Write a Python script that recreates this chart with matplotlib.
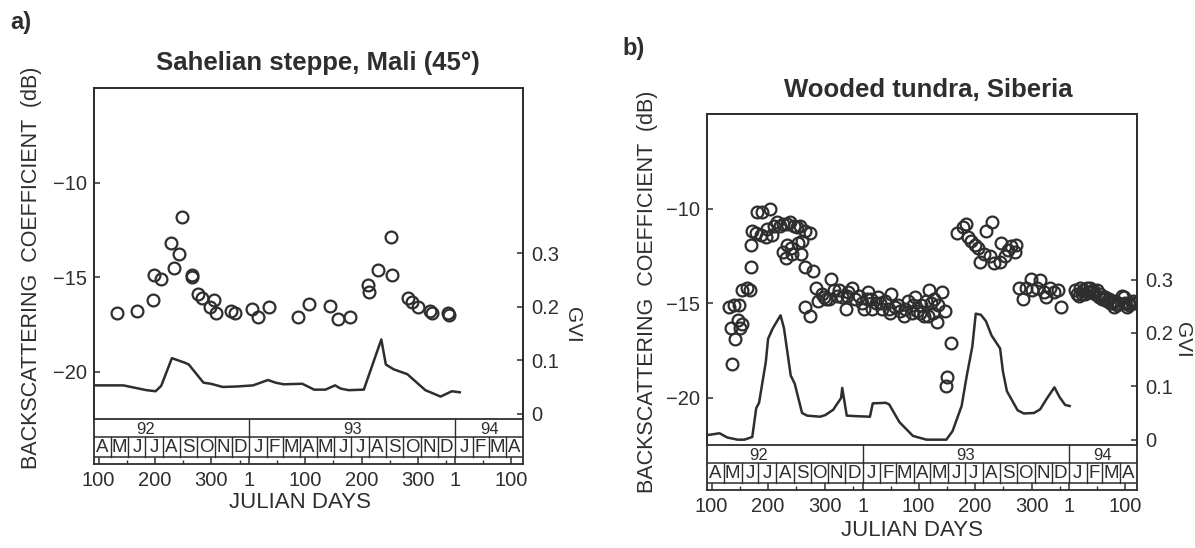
import datetime
import matplotlib
matplotlib.use("Agg")
import matplotlib.pyplot as plt

# Fonts and ink colour of the scanned figure
plt.rcParams["font.family"] = ["Liberation Sans", "DejaVu Sans"]
ink = "#2e2e2e"

# Day numbers run on from 1 Jan 1992 (= day 1); 1992 is a leap year, so 1 Jan 1993 = day 367
# a) Sahelian steppe, Mali: backscatter (dB) and GVI
sahel_day = [133, 169, 196, 199, 211, 229, 234, 243, 248, 265, 266, 276, 283, 298, 304, 308,
             335, 342, 372, 382, 402, 454, 473, 510, 525, 545, 577, 580, 596, 618, 620, 649,
             656, 666, 687, 690, 720, 721]
sahel_db = [-16.9, -16.8, -16.2, -14.9, -15.1, -13.2, -14.5, -13.8, -11.8, -14.9, -15.0, -15.9,
            -16.1, -16.6, -16.2, -16.9, -16.8, -16.9, -16.7, -17.1, -16.6, -17.1, -16.4, -16.5,
            -17.2, -17.1, -15.4, -15.8, -14.6, -12.9, -14.9, -16.1, -16.3, -16.6, -16.8, -16.9,
            -16.9, -17.0]
sahel_gvi_day = [96, 144, 185, 201, 211, 230, 254, 260, 286, 299, 320, 347, 374, 400, 414, 428,
                 461, 482, 502, 519, 529, 543, 570, 601, 609, 623, 647, 679, 706, 726, 740]
sahel_gvi = [0.053, 0.053, 0.044, 0.042, 0.052, 0.104, 0.095, 0.092, 0.058, 0.056, 0.050, 0.051,
             0.053, 0.063, 0.058, 0.055, 0.056, 0.045, 0.045, 0.053, 0.047, 0.044, 0.045, 0.139,
             0.092, 0.083, 0.074, 0.044, 0.032, 0.042, 0.040]

# b) Wooded tundra, Siberia: backscatter (dB) and GVI
tundra_day = [131, 135, 136, 140, 141, 147, 148, 150, 153, 153, 162, 168, 169, 170, 172, 178,
              180, 187, 189, 196, 198, 203, 207, 210, 215, 221, 226, 227, 232, 233, 234, 239,
              240, 243, 245, 251, 252, 257, 258, 260, 265, 265, 265, 274, 274, 280, 284, 288,
              296, 299, 302, 308, 312, 316, 322, 325, 331, 337, 340, 342, 348, 354, 360, 366,
              370, 375, 377, 381, 384, 390, 395, 398, 401, 407, 413, 416, 418, 424, 430, 433,
              440, 442, 447, 454, 456, 459, 463, 469, 471, 475, 479, 483, 484, 488, 492, 493,
              498, 501, 508, 512, 514, 516, 523,
              533, 544, 550, 553, 559, 565, 571, 575, 581, 586, 593, 596, 600, 609, 612, 618,
              624, 630, 636, 638,
              644, 651, 656, 664, 667, 676, 681, 688, 691, 699, 705, 713, 718,
              743, 746, 749, 751, 755, 757, 760, 763, 766, 769, 772, 775, 778, 781, 784, 787,
              790, 793, 796, 799, 802, 805, 808, 811, 813, 817, 819, 825, 829, 831, 835, 837,
              837, 843, 845, 848]
tundra_db = [-15.2, -16.3, -18.2, -15.1, -16.9, -15.9, -15.1, -16.3, -16.1, -14.3, -14.2, -14.3,
             -13.1, -11.9, -11.2, -11.3, -10.2, -11.4, -10.2, -11.5, -11.1, -10.0, -11.4, -10.9,
             -10.7, -10.9, -12.3, -10.8, -12.6, -10.8, -11.9, -10.7, -12.1, -12.4, -10.9, -11.0,
             -11.8, -10.9, -12.4, -11.7, -13.1, -15.2, -11.2, -11.3, -15.7, -13.3, -14.2, -14.9,
             -14.5, -14.7, -14.8, -14.8, -13.7, -14.3, -14.6, -14.3, -14.7, -15.3, -14.6, -14.4,
             -14.2, -14.8, -14.6, -15.0, -15.3, -14.8, -14.4, -14.8, -15.3, -15.0, -14.7, -15.0,
             -15.3, -14.9, -15.3, -15.5, -14.5, -15.2, -15.1, -15.4, -15.7, -15.3, -14.9, -15.5,
             -15.1, -14.7, -15.4, -15.5, -15.1, -15.7, -14.9, -15.7, -14.3, -15.0, -15.5, -14.8,
             -16.0, -15.1, -14.4, -15.4, -19.4, -18.9, -17.1,
             -11.3, -11.0, -10.8, -11.5, -11.7, -11.9, -12.1, -12.8, -12.4, -11.2, -12.5, -10.7,
             -12.9, -12.8, -11.8, -12.5, -12.2, -12.0, -12.3, -11.9,
             -14.2, -14.8, -14.2, -13.7, -14.3, -14.2, -13.8, -14.4, -14.7, -14.2, -14.4, -14.3,
             -15.2,
             -14.3, -14.5, -14.6, -14.2, -14.5, -14.3, -14.5, -14.2, -14.4, -14.2, -14.4, -14.3,
             -14.5, -14.3, -14.7, -14.5, -14.8, -14.8, -14.7, -14.9, -14.8, -15.0, -15.0, -15.2,
             -14.9, -15.1, -15.0, -14.6, -14.7, -15.0, -15.2, -15.0, -15.1, -15.0, -14.9, -15.0]
tundra_gvi_day = [96, 114, 128, 146, 158, 172, 179, 184, 196, 200, 208, 222, 228, 240, 247, 260,
                  269, 292, 301, 315, 329, 331, 339, 356, 380, 385, 408, 414, 432, 456, 480, 504,
                  509, 515, 526, 542, 551, 561, 567, 576, 585, 595, 610, 615, 622, 641, 652, 670,
                  681, 692, 706, 715, 725, 733]
tundra_gvi = [0.009, 0.012, 0.004, 0.0, 0.0, 0.005, 0.059, 0.069, 0.146, 0.189, 0.208, 0.233,
              0.209, 0.120, 0.105, 0.050, 0.045, 0.043, 0.046, 0.056, 0.078, 0.097, 0.045, 0.044,
              0.043, 0.068, 0.069, 0.066, 0.033, 0.007, 0.0, 0.0, 0.0, 0.0, 0.016, 0.063, 0.119,
              0.175, 0.236, 0.234, 0.222, 0.195, 0.171, 0.128, 0.091, 0.055, 0.049, 0.050, 0.057,
              0.076, 0.098, 0.080, 0.065, 0.063]

# Axis text
db_ticks = [-10, -15, -20]
gvi_ticks = [0, 0.1, 0.2, 0.3]
gvi_tick_labels = ["0", "0.1", "0.2", "0.3"]
month_letters = ["A", "M", "J", "J", "A", "S", "O", "N", "D", "J", "F", "M", "A",
                 "M", "J", "J", "A", "S", "O", "N", "D", "J", "F", "M", "A"]
year_labels = ["92", "93", "94"]
julian_tick_year = [1992, 1992, 1992, 1993, 1993, 1993, 1993, 1994, 1994]
julian_tick_day = [100, 200, 300, 1, 100, 200, 300, 1, 100]

W, H = 1195, 548


# Turns a calendar date into the running day number used above
def day_number(d):
    return (d - datetime.date(1991, 12, 31)).days


# Pixel position (from top-left) to figure fraction
def fx(x):
    return x / W


def fy(y):
    return 1 - y / H


# Month starts from Apr 1992 to May 1994 (edges of the month boxes)
month_starts = []
for k in range(len(month_letters) + 1):
    m = 4 + k
    month_starts.append(day_number(datetime.date(1992 + (m - 1) // 12, (m - 1) % 12 + 1, 1)))
x_start, x_end = month_starts[0], month_starts[-1]
year_starts = [day_number(datetime.date(1992 + i, 1, 1)) for i in range(len(year_labels) + 1)]
julian_pos = [day_number(datetime.date(y, 1, 1)) + d - 1 for y, d in zip(julian_tick_year, julian_tick_day)]


# Draws one panel: scatter + GVI line on the main frame, month/year strip and day axis below
def draw_panel(fig, box, scat_day, scat_db, gvi_day, gvi_val):
    left, right, top, strip_top, strip_bottom = box
    ax = fig.add_axes([fx(left), fy(strip_top), (right - left) / W, (strip_top - top) / H])
    ax.plot(scat_day, scat_db, "o", ms=8.5, mfc="none", mec=ink, mew=1.6, zorder=3)
    ax.set_xlim(x_start, x_end)
    ax.set_ylim(-22.5, -5)
    ax.set_xticks([])
    ax.set_yticks(db_ticks)
    ax.set_yticklabels(["\u2212" + str(abs(t)) for t in db_ticks])
    ax.tick_params(axis="y", direction="in", length=4, width=1.1, labelsize=14.5, pad=5,
                   colors=ink)

    gx = ax.twinx()
    gx.plot(gvi_day, gvi_val, color=ink, lw=1.8)
    gx.set_ylim(-0.01, 0.61)
    gx.set_yticks(gvi_ticks)
    gx.set_yticklabels(gvi_tick_labels)
    gx.tick_params(axis="y", direction="in", length=4, width=1.1, labelsize=14.5, pad=6,
                   colors=ink)
    for a in (ax, gx):
        a.spines["bottom"].set_visible(False)
        for s in ("left", "right", "top"):
            a.spines[s].set_color(ink)
            a.spines[s].set_linewidth(1.3)

    # strip: 0-7 gap above the day axis, 7-27 months, 27-45 years
    sx = fig.add_axes([fx(left), fy(strip_bottom), (right - left) / W, (strip_bottom - strip_top) / H])
    sx.set_xlim(x_start, x_end)
    sx.set_ylim(0, 45)
    sx.set_yticks([])
    for s in sx.spines.values():
        s.set_color(ink)
        s.set_linewidth(1.3)
    sx.axhline(7, color=ink, lw=1.1)
    sx.axhline(27, color=ink, lw=1.1)
    for b in month_starts[1:-1]:
        sx.plot([b, b], [7, 27], color=ink, lw=1.0)
    for i, letter in enumerate(month_letters):
        sx.text((month_starts[i] + month_starts[i + 1]) / 2, 16.5, letter, ha="center",
                va="center", fontsize=13.5, color=ink)
    for i, label in enumerate(year_labels):
        a, b = year_starts[i], year_starts[i + 1]
        if x_start < a < x_end:
            sx.plot([a, a], [27, 45], color=ink, lw=1.0)
        mid = (a + b) / 2
        if mid > x_end:
            mid = (a + x_end) / 2
        sx.text(mid, 35, label, ha="center", va="center", fontsize=12, color=ink)

    sx.set_xticks(julian_pos)
    sx.set_xticklabels([str(d) for d in julian_tick_day])
    sx.set_xticks([p + 50 for p in julian_pos if p + 50 < x_end], minor=True)
    sx.tick_params(axis="x", which="major", direction="in", length=5, width=1.1,
                   labelsize=14.5, pad=5, colors=ink)
    sx.tick_params(axis="x", which="minor", direction="in", length=3, width=1.0, colors=ink)
    return ax


def main():
    fig = plt.figure(figsize=(W / 100, H / 100), dpi=100)

    # a) Sahelian steppe
    draw_panel(fig, (94, 523, 88, 419, 464), sahel_day, sahel_db, sahel_gvi_day, sahel_gvi)
    fig.text(fx(21), fy(22), "a)", fontsize=17, weight="bold", ha="center", va="center", color=ink)
    fig.text(fx(318), fy(63), "Sahelian steppe, Mali (45\u00b0)", fontsize=18.5, weight="bold",
             ha="center", va="center", color=ink)
    fig.text(fx(32), fy(268), "BACKSCATTERING  COEFFICIENT  (dB)", rotation=90, fontsize=15.5,
             ha="center", va="center", color=ink)
    fig.text(fx(573), fy(325), "GVI", rotation=270, fontsize=15, ha="center", va="center",
             color=ink)
    fig.text(fx(300), fy(502), "JULIAN DAYS", fontsize=16, ha="center", va="center", color=ink)

    # b) Wooded tundra
    draw_panel(fig, (707, 1137, 114, 445, 490), tundra_day, tundra_db, tundra_gvi_day, tundra_gvi)
    fig.text(fx(634), fy(48), "b)", fontsize=17, weight="bold", ha="center", va="center", color=ink)
    fig.text(fx(928), fy(90), "Wooded tundra, Siberia", fontsize=18.5, weight="bold",
             ha="center", va="center", color=ink)
    fig.text(fx(648), fy(292), "BACKSCATTERING  COEFFICIENT  (dB)", rotation=90, fontsize=15.5,
             ha="center", va="center", color=ink)
    fig.text(fx(1182), fy(340), "GVI", rotation=270, fontsize=15, ha="center", va="center",
             color=ink)
    fig.text(fx(912), fy(530), "JULIAN DAYS", fontsize=16, ha="center", va="center", color=ink)

    fig.savefig("out.png", dpi=100)
    plt.close(fig)


if __name__ == "__main__":
    main()
